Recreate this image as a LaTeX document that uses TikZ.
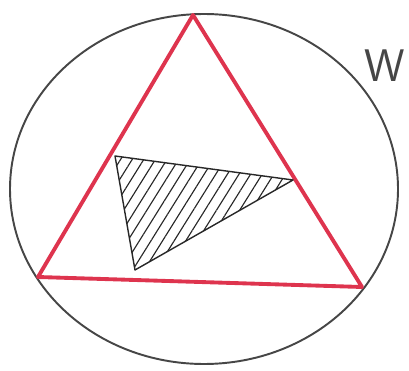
\documentclass[tikz,border=0pt]{standalone}
\usepackage{tikz}
\usepackage{xcolor}
\usetikzlibrary{patterns.meta}
\definecolor{skRed}{RGB}{222,52,78}
\definecolor{skGray}{RGB}{70,70,70}
\definecolor{skInk}{RGB}{40,40,40}
\tikzset{
  ringline/.style={draw=skGray,line width=1.1pt},
  triline/.style={draw=skRed,line width=2.2pt,line join=round,line cap=round},
  hatchtri/.style={draw=skInk,line width=0.8pt,line join=round,
    pattern={Lines[angle=58,distance=5.6pt,line width=0.65pt]},pattern color=skInk}
}

\begin{document}
\begin{tikzpicture}[x=0.02cm,y=-0.02cm]
  \useasboundingbox (0,0) rectangle (409,371);
  % outer region
  \draw[ringline] (204,189) ellipse [x radius=194,y radius=175];
  % red triangle
  \coordinate (P) at (193,15); \coordinate (Q) at (38,277); \coordinate (R) at (362,287);
  \draw[triline] (P)--(Q)--(R)--cycle;
  % hatched triangle
  \coordinate (U) at (115,156); \coordinate (V) at (293,180); \coordinate (X) at (135,270);
  \draw[hatchtri] (U)--(V)--(X)--cycle;
  \node[font=\sffamily\fontsize{26}{26}\selectfont,text=skGray] (w) at (385,66) {W};
\end{tikzpicture}
\end{document}
